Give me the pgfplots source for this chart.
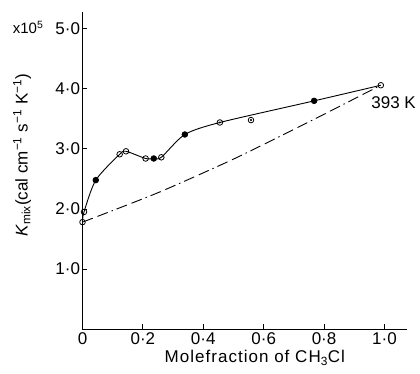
\documentclass[border=0pt]{standalone}
\usepackage{pgfplots}
\pgfplotsset{compat=1.18}
\usepackage{fontspec}
\setmainfont{Liberation Sans}
\newfontfamily\spaced[LetterSpace=6]{Liberation Sans}
\begin{document}
\begin{tikzpicture}
\useasboundingbox (-82.5pt,-44pt) rectangle (337.5pt,329pt);
\begin{axis}[
  anchor=south west, at={(0pt,0pt)},
  scale only axis, width=324.6pt, height=317pt,
  xmin=0, xmax=1.075, ymin=0, ymax=5.28,
  axis lines=left, axis line style={-, line width=0.9pt},
  tick align=inside, major tick length=5pt,
  tick style={line width=0.8pt, black},
  xtick={0,0.2,0.4,0.6,0.8,1.0},
  xticklabels={0, 0·2, 0·4, 0·6, 0·8, 1·0},
  ytick={1,2,3,4,5},
  yticklabels={1·0, 2·0, 3·0, 4·0, 5·0},
  /pgf/number format/assume math mode=true,
  ticklabel style={font=\fontsize{17}{20}\selectfont},
  yticklabel style={xshift=1pt},
  xlabel={\spaced Molefraction of CH\textsubscript{3}Cl},
  xlabel style={font=\fontsize{17}{20}\selectfont, at={(axis description cs:0.531,-0.0915)}, anchor=center},
  ylabel={{\itshape K}\textsubscript{mix}(cal cm\textsuperscript{−1} s\textsuperscript{−1} K\textsuperscript{−1})},
  ylabel style={font=\fontsize{17}{20}\selectfont, at={(axis description cs:-0.186,0.549)}, anchor=center},
  clip=false,
]
% solid smooth curve
\addplot[black, line width=0.9pt, smooth, tension=0.45] coordinates {
 (0,1.78) (0.005,1.95) (0.044,2.48) (0.123,2.91) (0.144,2.96)
 (0.209,2.84) (0.236,2.84) (0.261,2.86) (0.339,3.24) (0.455,3.44)
 (0.767,3.80) (0.988,4.06)
};
% dash-dot curve
\addplot[black, line width=0.9pt, smooth, tension=0.4, dash pattern=on 11pt off 5pt on 11pt off 4pt on 1.5pt off 4pt] coordinates {
 (0,1.78) (0.25,2.27) (0.5,2.83) (0.75,3.45) (0.988,4.06)
};
% open circles
\addplot[only marks, mark=o, mark size=2.8pt, mark options={fill=white, line width=0.8pt}] coordinates {
 (0,1.78) (0.005,1.95) (0.123,2.91) (0.144,2.96) (0.209,2.84) (0.261,2.86)
 (0.455,3.44) (0.558,3.48) (0.988,4.06)
};
% filled circles
\addplot[only marks, mark=*, mark size=2.8pt, mark options={fill=black, line width=0.8pt}] coordinates {
 (0.044,2.48) (0.236,2.84) (0.339,3.24) (0.767,3.80)
};
% dotted centres
\addplot[only marks, mark=*, mark size=0.8pt] coordinates {
 (0.455,3.44) (0.558,3.48)
};
\node[anchor=west, font=\fontsize{17}{20}\selectfont] at (axis cs:0.945,3.77) {393 K};
\node[anchor=center, font=\fontsize{15}{18}\selectfont] at (axis cs:-0.18,5.02) {x10\textsuperscript{5}};
\end{axis}
\end{tikzpicture}
\end{document}
